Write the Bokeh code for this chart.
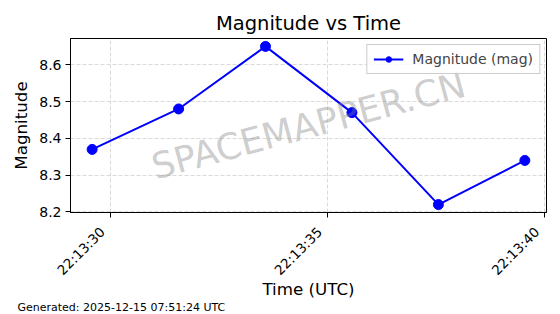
import math
from datetime import datetime
from bokeh.plotting import figure
from bokeh.models import (Range1d, FixedTicker, DatetimeAxis, CustomJSTickFormatter, Label,
                          Legend, LegendItem, Title)
from bokeh.embed import file_html
from bokeh.resources import INLINE

# ---- data ----
times = ["2025-12-14 22:13:29.580", "2025-12-14 22:13:31.570", "2025-12-14 22:13:33.570",
         "2025-12-14 22:13:35.560", "2025-12-14 22:13:37.550", "2025-12-14 22:13:39.540"]
magnitudes = [8.37, 8.48, 8.65, 8.47, 8.22, 8.34]
x_tick_times = ["2025-12-14 22:13:30", "2025-12-14 22:13:35", "2025-12-14 22:13:40"]
x_tick_labels = ["22:13:30", "22:13:35", "22:13:40"]
y_ticks = [8.2, 8.3, 8.4, 8.5, 8.6]
title_text = "Magnitude vs Time"
x_label = "Time (UTC)"
y_label = "Magnitude"
legend_label = "Magnitude (mag)"
watermark = "SPACEMAPPER.CN"
footer = "Generated: 2025-12-15 07:51:24 UTC"

FONT = "DejaVu Sans"
W, H = 560, 314
FRAME_L, FRAME_R, FRAME_T, FRAME_B = 70, 546, 38, 212

def to_dt(s):
    fmt = "%Y-%m-%d %H:%M:%S.%f" if "." in s else "%Y-%m-%d %H:%M:%S"
    return datetime.strptime(s, fmt)

EPOCH = datetime(1970, 1, 1)
xs = [to_dt(t) for t in times]
xms = [(x - EPOCH).total_seconds() * 1000 for x in xs]
tick_ms = [(to_dt(t) - EPOCH).total_seconds() * 1000 for t in x_tick_times]

xmin, xmax = min(xms), max(xms)
xm = (xmax - xmin) * 0.05
ymin, ymax = min(magnitudes), max(magnitudes)
ym = (ymax - ymin) * 0.05
x0, x1 = xmin - xm, xmax + xm

p = figure(width=W, height=H, x_axis_type="datetime",
           x_range=Range1d(x0, x1), y_range=Range1d(ymin - ym, ymax + ym),
           output_backend="svg", toolbar_location=None,
           min_border_left=FRAME_L, min_border_right=W - FRAME_R,
           min_border_top=FRAME_T, min_border_bottom=H - FRAME_B)

p.title.text = title_text
p.title.align = "center"
p.title.text_font = FONT
p.title.text_font_size = "19.5px"
p.title.text_font_style = "normal"
p.title.text_color = "black"
p.title.standoff = 8

p.outline_line_color = "black"
p.outline_line_width = 1
p.outline_line_alpha = 1

for ax in (p.xaxis[0], p.yaxis[0]):
    ax.axis_line_color = "black"
    ax.major_tick_line_color = "black"
    ax.major_tick_out = 5
    ax.major_tick_in = 0
    ax.minor_tick_line_color = None
    ax.major_label_text_font = FONT
    ax.major_label_text_font_size = "14px"
    ax.major_label_text_color = "black"
    ax.axis_label_text_font = FONT
    ax.axis_label_text_font_size = "16.7px"
    ax.axis_label_text_font_style = "normal"
    ax.axis_label_text_color = "black"

# main x axis: tick marks only
xa = p.xaxis[0]
xa.ticker = FixedTicker(ticks=tick_ms)
xa.major_label_text_font_size = "0px"
xa.major_label_text_color = None
xa.major_label_standoff = 0

# second x axis: rotated labels, shifted so their right end sits at the tick (matplotlib ha="right")
shift_px = 8
ms_per_px = (x1 - x0) / (FRAME_R - FRAME_L)
label_pos = [t - shift_px * ms_per_px for t in tick_ms]
xl = DatetimeAxis(ticker=FixedTicker(ticks=label_pos),
                  formatter=CustomJSTickFormatter(args=dict(labels=x_tick_labels),
                                                  code="return labels[index];"),
                  axis_line_color=None, major_tick_line_color=None, minor_tick_line_color=None,
                  major_tick_out=0, major_tick_in=0, major_label_standoff=12,
                  major_label_orientation=math.pi / 4,
                  major_label_text_font=FONT, major_label_text_font_size="13.5px",
                  major_label_text_color="black",
                  axis_label=x_label, axis_label_text_font=FONT, axis_label_text_font_size="16.7px",
                  axis_label_text_font_style="normal", axis_label_text_color="black",
                  axis_label_standoff=-8)
p.add_layout(xl, "below")

p.yaxis[0].ticker = FixedTicker(ticks=y_ticks)
p.yaxis[0].axis_label = y_label
p.yaxis[0].major_label_standoff = 4

for g in (p.xgrid[0], p.ygrid[0]):
    g.grid_line_color = "#b0b0b0"
    g.grid_line_alpha = 0.6
    g.grid_line_dash = "4 2"
    g.grid_line_width = 0.8
p.xgrid[0].ticker = xa.ticker
p.ygrid[0].ticker = p.yaxis[0].ticker

# watermark
p.add_layout(Label(x=(xmin + xmax) / 2, y=(ymin + ymax) / 2, text=watermark,
                   text_font=FONT, text_font_size="36px", text_color="#808080", text_alpha=0.4,
                   angle=15, angle_units="deg", text_align="center", text_baseline="middle"))

ln = p.line(xs, magnitudes, line_color="#0000ff", line_width=2)
sc = p.scatter(xs, magnitudes, size=10, fill_color="#0000ff", line_color="#0000ff")

legend = Legend(items=[LegendItem(label=legend_label, renderers=[ln, sc])],
                location="top_right", label_text_font=FONT, label_text_font_size="14px",
                border_line_color="#cccccc", border_line_alpha=1, background_fill_alpha=0.8,
                padding=6, margin=6, spacing=0, glyph_width=30, glyph_height=14,
                label_height=14, label_standoff=9)
p.add_layout(legend, "center")

p.add_layout(Title(text=footer, align="left", offset=-(FRAME_L - 17), text_font=FONT,
                   text_font_size="11px", text_font_style="normal", text_color="black",
                   standoff=-6), "below")

open("out.html", "w").write(file_html(p, INLINE))
